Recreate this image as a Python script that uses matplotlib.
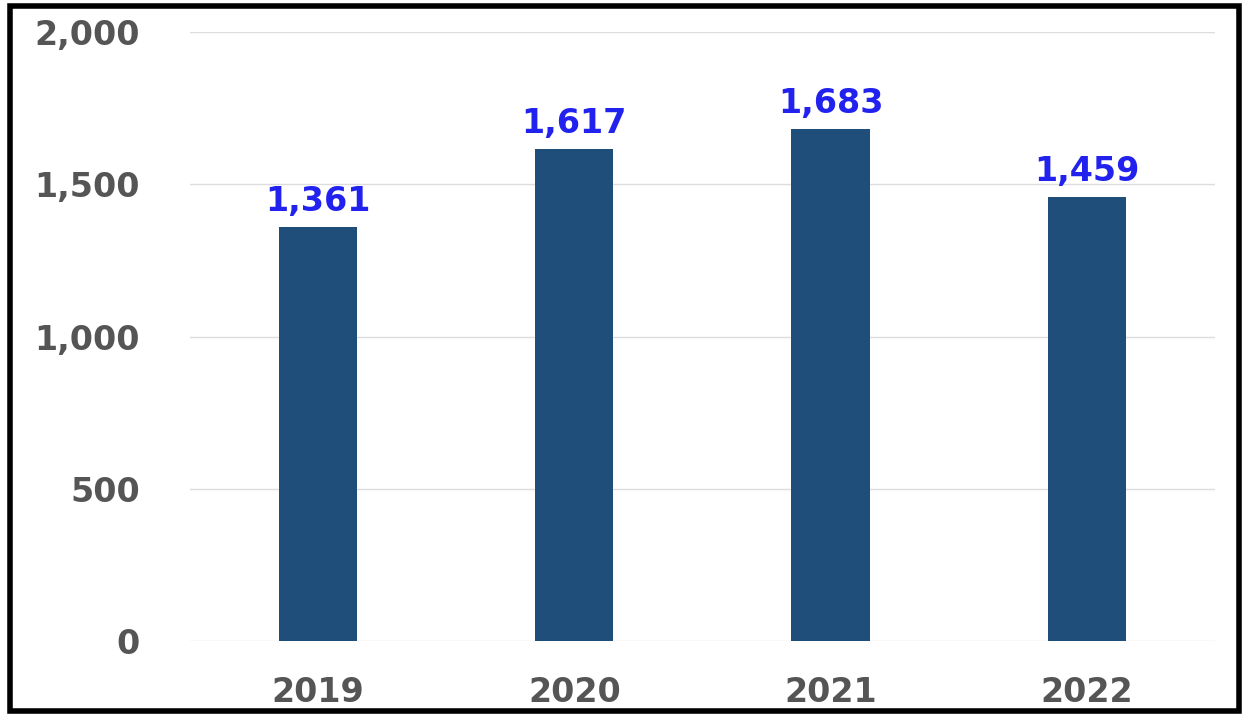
import matplotlib.pyplot as plt
from matplotlib.patches import Rectangle

# データ
years = ["2019", "2020", "2021", "2022"]
values = [1361, 1617, 1683, 1459]
yticks = [0, 500, 1000, 1500, 2000]

bar_color = "#1f4e7a"
text_grey = "#555555"
label_blue = "#2222ee"

fig = plt.figure(figsize=(12.46, 7.15), dpi=100)
ax = fig.add_axes([0.1525, 0.1035, 0.8225, 0.8515])

x = range(len(years))
bars = ax.bar(x, values, width=0.305, color=bar_color, zorder=3)

# 値ラベル
for xi, v in zip(x, values):
    ax.text(xi, v + 30, f"{v:,}", ha="center", va="bottom",
            fontsize=24, fontweight="bold", color=label_blue)

ax.set_xlim(-0.5, len(years) - 0.5)
ax.set_ylim(0, 2000)
ax.set_yticks(yticks)
ax.set_yticklabels([f"{t:,}" for t in yticks])
ax.set_xticks(list(x))
ax.set_xticklabels(years)
ax.tick_params(axis="y", length=0, pad=36, labelsize=24, labelcolor=text_grey)
ax.tick_params(axis="x", length=0, pad=25, labelsize=24, labelcolor=text_grey)
for lab in ax.get_xticklabels() + ax.get_yticklabels():
    lab.set_fontweight("bold")

ax.grid(axis="y", color="#dddddd", linewidth=1, zorder=0)
for s in ax.spines.values():
    s.set_visible(False)

# 外枠
fig.patches.append(Rectangle((0.008, 0.006), 0.986, 0.986, transform=fig.transFigure,
                             fill=False, edgecolor="black", linewidth=4))

fig.savefig("out.png", dpi=100)
